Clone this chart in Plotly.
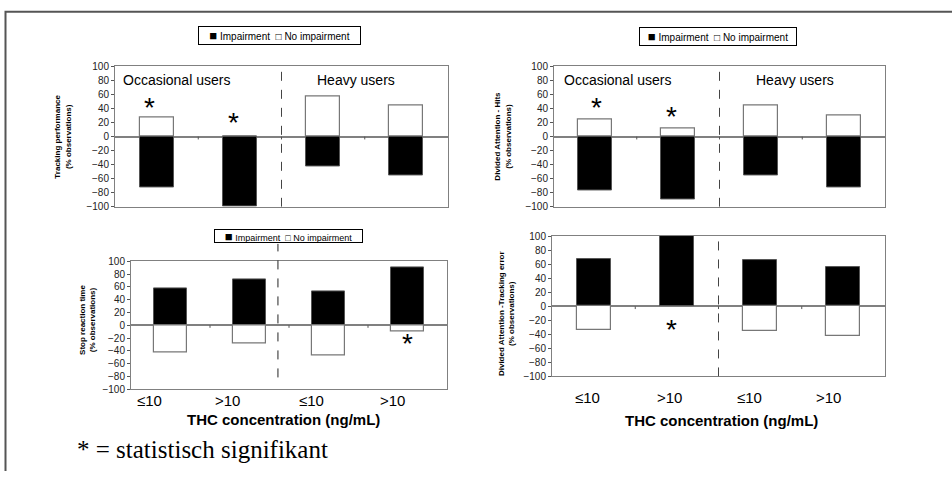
import plotly.graph_objects as go

W, H = 952, 477

# ---- data -------------------------------------------------------------
categories = ["≤10", ">10", "≤10", ">10"]
groups = ["Occasional users", "Heavy users"]

tracking_impairment = [-72, -100, -42, -55]
tracking_no_impairment = [27, 0, 57, 44]

hits_impairment = [-76, -90, -55, -72]
hits_no_impairment = [25, 12, 44, 30]

stop_impairment = [57, 72, 53, 91]
stop_no_impairment = [-42, -29, -47, -10]

tracking_error_impairment = [67, 100, 66, 56]
tracking_error_no_impairment = [-34, 0, -35, -43]

# significance markers: (category position, value where the asterisk sits)
tracking_stars = [(-0.08, 44), (0.92, 23)]
hits_stars = [(0.01, 44), (0.92, 32)]
stop_stars = [(3.0, -26)]
tracking_error_stars = [(0.94, -30)]

y_titles = [
    "Tracking performance<br>(% observations)",
    "Divided Attention - Hits<br>(% observations)",
    "Stop reaction time<br>(% observations)",
    "Divided Attention -Tracking error<br>(% observations)",
]
x_title = "THC concentration (ng/mL)"
legend_items = ["Impairment", "No impairment"]
footnote = "* = statistisch signifikant"

FONT = "Arial, 'Liberation Sans', sans-serif"
GRID = "#808080"


def fx(px):
    return px / W


def fy(py):
    return 1 - py / H


def label(x, y, text, size, xanchor="center", family=FONT, **kw):
    return dict(x=fx(x), y=fy(y), xref="paper", yref="paper", text=text,
                xanchor=xanchor, yanchor="middle", showarrow=False,
                font=dict(family=family, size=size, color="black"), **kw)


# pixel boxes of the four plot areas: (left, right, top, bottom)
panels = [
    dict(box=(115, 448, 62, 206), imp=tracking_impairment, noimp=tracking_no_impairment,
         stars=tracking_stars, title=y_titles[0], title_pos=(63, 134), divider=1.5),
    dict(box=(554, 885, 62, 206), imp=hits_impairment, noimp=hits_no_impairment,
         stars=hits_stars, title=y_titles[1], title_pos=(503, 134), divider=1.5),
    dict(box=(131, 447, 262, 393), imp=stop_impairment, noimp=stop_no_impairment,
         stars=stop_stars, title=y_titles[2], title_pos=(88, 322), divider=1.36),
    dict(box=(552, 885, 236, 380), imp=tracking_error_impairment,
         noimp=tracking_error_no_impairment, stars=tracking_error_stars,
         title=y_titles[3], title_pos=(506, 316), divider=1.5),
]

fig = go.Figure()
annotations = []
shapes = []
xpos = list(range(len(categories)))

for i, p in enumerate(panels):
    n = "" if i == 0 else str(i + 1)
    xa, ya = "x" + n, "y" + n
    left, right, top, bottom = p["box"]

    fig.add_trace(go.Bar(x=xpos, y=p["imp"], xaxis=xa, yaxis=ya, width=0.41,
                         marker=dict(color="black", line=dict(color="#555", width=1)),
                         showlegend=False, hoverinfo="skip"))
    fig.add_trace(go.Bar(x=xpos, y=p["noimp"], xaxis=xa, yaxis=ya, width=0.41,
                         marker=dict(color="white", line=dict(color="#777", width=1.2)),
                         showlegend=False, hoverinfo="skip"))

    fig.update_layout(**{
        "xaxis" + n: dict(domain=[fx(left), fx(right)], range=[-0.5, 3.5], anchor=ya,
                          showticklabels=False, ticks="", showgrid=False, zeroline=False,
                          showline=True, mirror=True, linecolor=GRID, linewidth=1,
                          fixedrange=True),
        "yaxis" + n: dict(domain=[fy(bottom), fy(top)], range=[-100, 100], anchor=xa,
                          tickvals=list(range(-100, 101, 20)), ticks="outside",
                          ticklen=3, tickcolor="#555", showgrid=False,
                          zeroline=True, zerolinecolor=GRID, zerolinewidth=2,
                          showline=True, mirror=True, linecolor=GRID, linewidth=1,
                          tickfont=dict(family=FONT, size=10, color="#222"),
                          fixedrange=True),
    })

    # small tick marks on the zero line between categories
    for b in [0.5, 1.5, 2.5]:
        shapes.append(dict(type="line", xref=xa, yref=ya, x0=b, x1=b, y0=0, y1=-4,
                           line=dict(color="#555", width=1)))

    # dashed divider between occasional and heavy users
    if i == 2:
        shapes.append(dict(type="line", xref=xa, yref="paper", x0=p["divider"],
                           x1=p["divider"], y0=fy(381), y1=fy(244),
                           line=dict(color="#222", width=1, dash="dash")))
    else:
        shapes.append(dict(type="line", xref=xa, yref=ya, x0=p["divider"],
                           x1=p["divider"], y0=-100, y1=100,
                           line=dict(color="#444", width=1, dash="dash")))

    # significance asterisks
    for sx, sy in p["stars"]:
        annotations.append(dict(x=sx, y=sy, xref=xa, yref=ya, text="*", showarrow=False,
                                font=dict(family=FONT, size=28, color="black"),
                                xanchor="center", yanchor="middle", yshift=-2))

    # y-axis title
    tx, ty = p["title_pos"]
    annotations.append(label(tx, ty, "<b>" + p["title"] + "</b>", 8, textangle=-90))

# group labels inside the top panels
for lx_occ, lx_heavy in [(121, 315), (562, 754)]:
    annotations.append(label(lx_occ, 76, groups[0], 14, xanchor="left"))
    annotations.append(label(lx_heavy, 76, groups[1], 14, xanchor="left"))

# legends drawn as boxed labels: filled square = impairment, hollow = none
legend_text = ('<span style="font-size:13px">■</span> ' + legend_items[0]
               + '  □ ' + legend_items[1])
for cx, cy, w, h, fs in [(279.5, 30.5, 161, 17, 10), (717.5, 31.5, 156, 17, 10),
                         (288.5, 236, 147, 12, 9)]:
    annotations.append(label(cx, cy, legend_text, fs, width=w, height=h,
                             bordercolor="black", borderwidth=1, borderpad=0,
                             bgcolor="white"))

# category labels and x titles under the bottom panels
for label_x, label_y, title_x, title_y in [([149, 227, 311, 392], 405, 283, 424),
                                           ([587, 669, 749, 828], 402, 721, 425)]:
    for lx, cat in zip(label_x, categories):
        annotations.append(label(lx, label_y, cat, 15))
    annotations.append(label(title_x, title_y, "<b>" + x_title + "</b>", 15))

annotations.append(label(75, 455, footnote, 25, xanchor="left",
                         family="'Liberation Serif', 'Times New Roman', serif"))

# outer frame (left and top edges)
shapes.append(dict(type="path", xref="paper", yref="paper",
                   path=f"M {fx(5.5)},0 L {fx(5.5)},{fy(6)} L 1,{fy(6)}",
                   line=dict(color="#555", width=2)))

fig.update_layout(width=W, height=H, margin=dict(l=0, r=0, t=0, b=0),
                  paper_bgcolor="white", plot_bgcolor="white", barmode="relative",
                  bargap=0, annotations=annotations, shapes=shapes, showlegend=False)

fig.write_html("out.html", config={"displayModeBar": False})
